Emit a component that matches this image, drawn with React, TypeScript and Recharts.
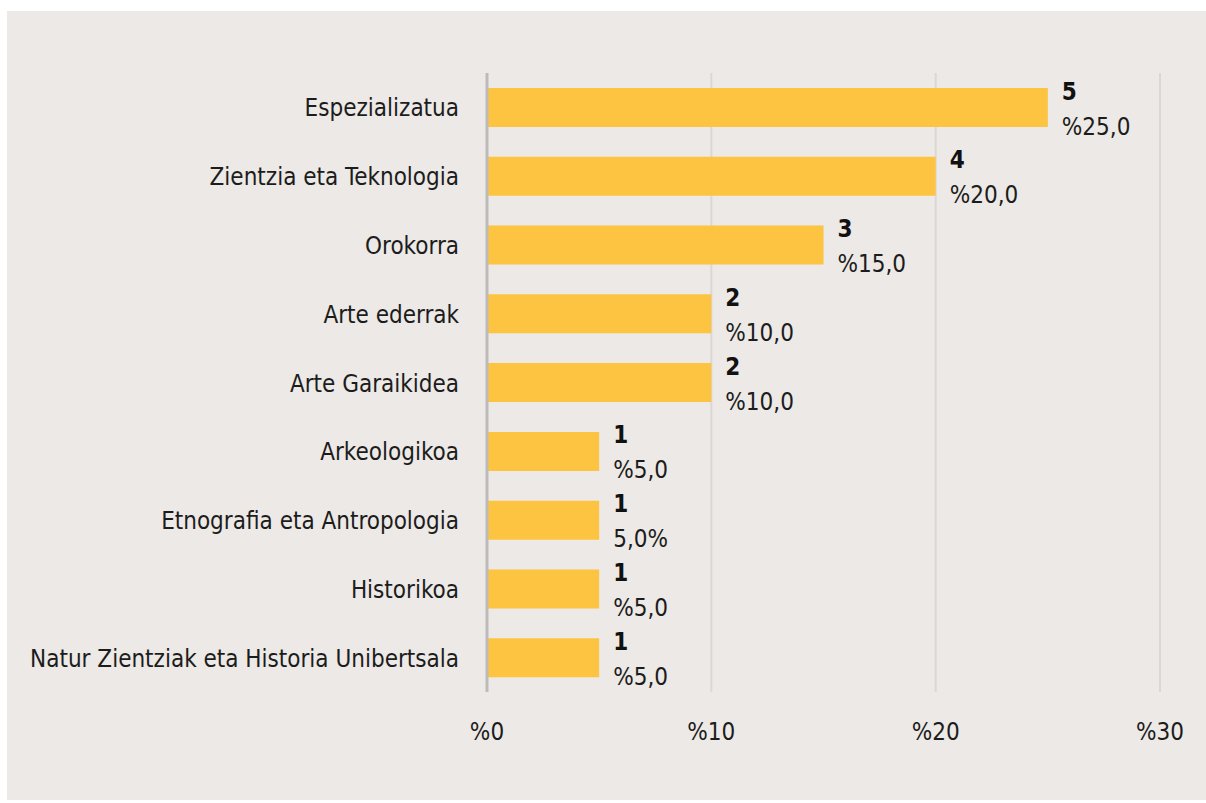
import React from 'react';
import { BarChart, Bar, XAxis, YAxis, CartesianGrid, LabelList } from 'recharts';

const categories = [
  'Espezializatua',
  'Zientzia eta Teknologia',
  'Orokorra',
  'Arte ederrak',
  'Arte Garaikidea',
  'Arkeologikoa',
  'Etnografia eta Antropologia',
  'Historikoa',
  'Natur Zientziak eta Historia Unibertsala',
];
const counts = [5, 4, 3, 2, 2, 1, 1, 1, 1];
const percents = [25, 20, 15, 10, 10, 5, 5, 5, 5];
const percentLabels = ['%25,0', '%20,0', '%15,0', '%10,0', '%10,0', '%5,0', '5,0%', '%5,0', '%5,0'];
const xTicks = [0, 10, 20, 30];

const FONT = '"DejaVu Sans Condensed", "Liberation Sans Narrow", sans-serif';
const BAR = '#FCC440';
const BG = '#ECE9E6';
const INK = '#1c1c1c';

const data = categories.map((name, i) => ({
  name,
  value: percents[i],
  count: counts[i],
  pct: percentLabels[i],
}));

function ValueLabel(props: any) {
  const { x, y, width, height, index } = props;
  const d = data[index];
  const lx = x + width + 14;
  const cy = y + height / 2;
  return (
    <g>
      <text x={lx} y={cy - 8} fontFamily={FONT} fontSize={24} fontWeight={700} fill="#111">
        {d.count}
      </text>
      <text x={lx} y={cy + 27} fontFamily={FONT} fontSize={24} fill={INK}>
        {d.pct}
      </text>
    </g>
  );
}

function XTick(props: any) {
  const { x, y, payload } = props;
  return (
    <text x={x} y={y + 40} textAnchor="middle" fontFamily={FONT} fontSize={24} fill={INK}>
      {'%' + payload.value}
    </text>
  );
}

function YTick(props: any) {
  const { x, y, payload } = props;
  return (
    <text x={x} y={y + 9} textAnchor="end" fontFamily={FONT} fontSize={24} fill={INK}>
      {payload.value}
    </text>
  );
}

export default function App() {
  return (
    <div style={{ position: 'absolute', left: 7, top: 11, width: 1199, height: 789, background: BG }}>
      <style>{'body{margin:0;background:#fff}'}</style>
      <BarChart
        width={1199}
        height={789}
        data={data}
        layout="vertical"
        margin={{ top: 62, right: 46, bottom: 78, left: 0 }}
        barSize={39}
      >
        <CartesianGrid horizontal={false} stroke="#DAD7D4" strokeWidth={2} />
        <XAxis
          type="number"
          domain={[0, 30]}
          ticks={xTicks}
          axisLine={false}
          tickLine={false}
          height={30}
          tick={<XTick />}
        />
        <YAxis
          type="category"
          dataKey="name"
          width={480}
          axisLine={{ stroke: '#BDBBB9', strokeWidth: 3 }}
          tickLine={false}
          tick={<YTick />}
          tickMargin={22}
          interval={0}
        />
        <Bar dataKey="value" fill={BAR} isAnimationActive={false}>
          <LabelList dataKey="value" content={<ValueLabel />} />
        </Bar>
      </BarChart>
    </div>
  );
}
